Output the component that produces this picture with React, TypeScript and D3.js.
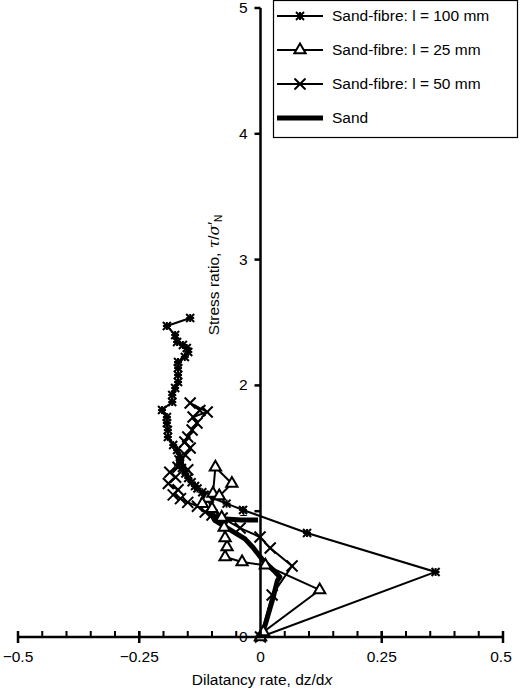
import * as d3 from "d3";

// dilatancy rate dz/dx vs stress ratio
const sand100: [number, number][] = [
  [0, 0], [0.361, 0.517], [0.096, 0.827], [-0.036, 1.01], [-0.07, 1.06], [-0.104, 1.113],
  [-0.115, 1.13], [-0.12, 1.15], [-0.13, 1.18], [-0.135, 1.2], [-0.142, 1.23], [-0.149, 1.264],
  [-0.155, 1.3], [-0.162, 1.343], [-0.166, 1.39], [-0.166, 1.431],
  [-0.172, 1.486], [-0.18, 1.526], [-0.191, 1.59], [-0.191, 1.645], [-0.193, 1.701],
  [-0.193, 1.749], [-0.203, 1.804], [-0.182, 1.868], [-0.182, 1.924], [-0.176, 1.979],
  [-0.17, 2.027], [-0.17, 2.083], [-0.17, 2.138], [-0.17, 2.186], [-0.156, 2.226],
  [-0.149, 2.266], [-0.152, 2.297], [-0.16, 2.321], [-0.172, 2.345], [-0.176, 2.401],
  [-0.193, 2.472], [-0.145, 2.536],
];

const sand25: [number, number][] = [
  [0, 0], [0.006, 0.04], [0.122, 0.374], [0.01, 0.57], [-0.038, 0.596],
  [-0.073, 0.636], [-0.069, 0.715], [-0.073, 0.787], [-0.075, 0.87], [-0.08, 0.95],
  [-0.1, 1.02], [-0.11, 1.1], [-0.098, 1.14], [-0.093, 1.35], [-0.059, 1.22],
  [-0.085, 1.12], [-0.12, 1.06],
];

const sand50: [number, number][] = [
  [0, 0], [0.024, 0.334], [0.065, 0.564], [0.02, 0.707], [-0.001, 0.795],
  [-0.042, 0.866], [-0.079, 0.946], [-0.1, 0.97], [-0.114, 0.994], [-0.13, 1.04],
  [-0.15, 1.07], [-0.165, 1.1], [-0.18, 1.13], [-0.17, 1.17], [-0.19, 1.22],
  [-0.175, 1.27], [-0.187, 1.31], [-0.17, 1.35], [-0.15, 1.33], [-0.166, 1.4],
  [-0.155, 1.447], [-0.145, 1.502], [-0.156, 1.55], [-0.15, 1.59], [-0.141, 1.645],
  [-0.131, 1.701], [-0.139, 1.749], [-0.11, 1.789], [-0.145, 1.86], [-0.125, 1.8],
];

const sandOnly: [number, number][] = [
  [0, 0], [0.01, 0.1], [0.025, 0.3], [0.035, 0.45], [0.04, 0.477],
  [0.027, 0.53], [0.005, 0.61], [-0.015, 0.71], [-0.032, 0.78], [-0.07, 0.87],
  [-0.095, 0.93], [-0.1, 0.97], [-0.08, 0.94], [-0.04, 0.93], [-0.005, 0.93],
];

const xMajor = [-0.5, -0.25, 0, 0.25, 0.5];
const xLabels = ["\u22120.5", "\u22120.25", "0", "0.25", "0.5"];
const yTicks = [0, 1, 2, 3, 4, 5];
const legendLabels = [
  "Sand-fibre: l = 100 mm",
  "Sand-fibre: l = 25 mm",
  "Sand-fibre: l = 50 mm",
  "Sand",
];

const font = "'Liberation Sans', Arial, sans-serif";

const x = d3.scaleLinear().domain([-0.5, 0.5]).range([18, 503]);
const y = d3.scaleLinear().domain([0, 5]).range([637, 8]);
const line = d3.line<[number, number]>().x((d) => x(d[0])).y((d) => y(d[1]));

function Star({ cx, cy }: { cx: number; cy: number }) {
  const r = 4;
  return (
    <g stroke="#000" strokeWidth={2}>
      <line x1={cx - r} y1={cy - r} x2={cx + r} y2={cy + r} />
      <line x1={cx - r} y1={cy + r} x2={cx + r} y2={cy - r} />
      <line x1={cx - r} y1={cy} x2={cx + r} y2={cy} />
      <line x1={cx} y1={cy - r} x2={cx} y2={cy + r} />
    </g>
  );
}

function Cross({ cx, cy }: { cx: number; cy: number }) {
  const r = 5.5;
  return (
    <g stroke="#000" strokeWidth={2}>
      <line x1={cx - r} y1={cy - r} x2={cx + r} y2={cy + r} />
      <line x1={cx - r} y1={cy + r} x2={cx + r} y2={cy - r} />
    </g>
  );
}

const triPath = d3.symbol(d3.symbolTriangle, 55)()!;

function Tri({ cx, cy }: { cx: number; cy: number }) {
  return (
    <path d={triPath} transform={`translate(${cx},${cy})`} fill="#fff" stroke="#000" strokeWidth={2} />
  );
}

export default function App() {
  const minor = d3.range(-10, 11).map((i) => i * 0.05);
  return (
    <svg
      width={520}
      height={690}
      style={{ position: "absolute", left: 0, top: 0, background: "#fff" }}
      fontFamily={font}
    >
      {/* series lines */}
      <path d={line(sand100)!} fill="none" stroke="#000" strokeWidth={2} />
      <path d={line(sand25)!} fill="none" stroke="#000" strokeWidth={2} />
      <path d={line(sand50)!} fill="none" stroke="#000" strokeWidth={2} />
      <path d={line(sandOnly)!} fill="none" stroke="#000" strokeWidth={5} strokeLinejoin="round" />

      {/* markers */}
      {sand100.map((d, i) => <Star key={"s" + i} cx={x(d[0])} cy={y(d[1])} />)}
      {sand50.map((d, i) => <Cross key={"c" + i} cx={x(d[0])} cy={y(d[1])} />)}
      {sand25.map((d, i) => <Tri key={"t" + i} cx={x(d[0])} cy={y(d[1])} />)}

      {/* x axis */}
      <line x1={x(-0.5)} x2={x(0.5)} y1={y(0)} y2={y(0)} stroke="#000" strokeWidth={2.5} />
      {minor.map((v, i) => (
        <line key={"m" + i} x1={x(v)} x2={x(v)} y1={y(0)} y2={y(0) - 6} stroke="#000" strokeWidth={2} />
      ))}
      {xMajor.filter((v) => v !== 0).map((v) => (
        <line key={"M" + v} x1={x(v)} x2={x(v)} y1={y(0) - 6} y2={y(0) + 6} stroke="#000" strokeWidth={2.5} />
      ))}
      {xMajor.map((v, i) => (
        <text key={"xl" + v} x={x(v) + (i === 4 ? -2 : 0)} y={662} fontSize={15.5} textAnchor="middle">
          {xLabels[i]}
        </text>
      ))}
      <text x={262} y={685} fontSize={15.5} textAnchor="middle">
        Dilatancy rate, dz/d<tspan fontStyle="italic">x</tspan>
      </text>

      {/* y axis */}
      <line x1={x(0)} x2={x(0)} y1={y(0)} y2={y(5)} stroke="#000" strokeWidth={2.5} />
      {yTicks.map((v) => (
        <line key={"yt" + v} x1={x(0) - 6} x2={x(0)} y1={y(v)} y2={y(v)} stroke="#000" strokeWidth={2.5} />
      ))}
      {yTicks.map((v) => (
        <text key={"yl" + v} x={x(0) - 13} y={y(v) + 5} fontSize={15.5} textAnchor="end">
          {v}
        </text>
      ))}
      <text transform="translate(219,275) rotate(-90)" fontSize={15.5} textAnchor="middle">
        Stress ratio, <tspan fontStyle="italic" fontFamily="'DejaVu Serif', serif">τ</tspan>/
        <tspan fontStyle="italic" fontFamily="'DejaVu Serif', serif">σ</tspan>
        <tspan dy={-1}>′</tspan>
        <tspan fontSize={10} dy={4}>N</tspan>
      </text>

      {/* legend */}
      <rect x={273.5} y={0.5} width={244} height={137} fill="#fff" stroke="#000" strokeWidth={1.2} />
      {legendLabels.map((lab, i) => {
        const ly = 16 + i * 34;
        return (
          <g key={"lg" + i}>
            <line x1={277} x2={323} y1={ly} y2={ly} stroke="#000" strokeWidth={i === 3 ? 5 : 2} />
            {i === 0 && <Star cx={300} cy={ly} />}
            {i === 1 && <Tri cx={300} cy={ly} />}
            {i === 2 && <Cross cx={300} cy={ly} />}
            <text x={332} y={ly + 5} fontSize={15.5}>{lab}</text>
          </g>
        );
      })}
    </svg>
  );
}
